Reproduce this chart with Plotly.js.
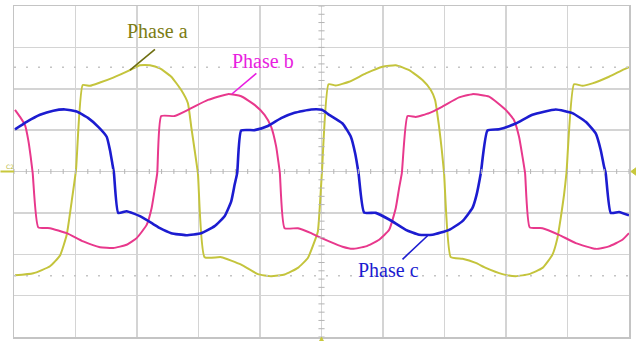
<!DOCTYPE html>
<html>
<head>
<meta charset="utf-8">
<script src="https://cdn.plot.ly/plotly-3.0.1.min.js"></script>
<style>
  html, body { margin: 0; padding: 0; background: #ffffff; }
  #scope { width: 636px; height: 341px; }
</style>
</head>
<body>
<div id="scope"></div>
<script>
// Three-phase waveforms on a 10 x 8 division oscilloscope screen.
// Time and amplitude are given in screen divisions.

const phaseATime = [0.016, 0.314, 0.585, 0.748, 0.857, 0.938, 1.008, 1.117, 1.235, 1.398, 1.614, 1.885, 2.048, 2.210, 2.373, 2.557, 2.719, 2.828, 2.882, 2.937, 2.990, 3.099, 3.369, 3.694, 3.966, 4.182, 4.400, 4.616, 4.778, 4.887, 4.941, 5.006, 5.115, 5.233, 5.449, 5.721, 5.992, 6.208, 6.425, 6.642, 6.777, 6.847, 6.912, 6.956, 6.993, 7.102, 7.292, 7.508, 7.671, 7.942, 8.159, 8.375, 8.593, 8.755, 8.836, 8.890, 8.944, 8.983, 9.106, 9.243, 9.405, 9.675, 9.893, 10.0];
const phaseAVolt = [-2.51, -2.46, -2.29, -2.03, -1.53, -0.72, 0.04, 2.09, 2.07, 2.15, 2.27, 2.45, 2.57, 2.57, 2.49, 2.29, 1.97, 1.65, 1.08, 0.52, -0.04, -2.07, -2.07, -2.25, -2.48, -2.53, -2.49, -2.33, -2.09, -1.69, -1.45, -0.04, 2.11, 2.08, 2.17, 2.37, 2.53, 2.57, 2.45, 2.21, 1.97, 1.73, 1.08, 0.52, -0.04, -2.07, -2.11, -2.21, -2.33, -2.48, -2.53, -2.48, -2.33, -2.01, -1.61, -1.12, -0.56, -0.04, 2.11, 2.07, 2.13, 2.29, 2.45, 2.52];

const phaseBTime = [0.016, 0.098, 0.179, 0.232, 0.271, 0.304, 0.395, 0.585, 0.857, 1.126, 1.398, 1.614, 1.832, 1.994, 2.157, 2.238, 2.292, 2.329, 2.394, 2.612, 2.882, 3.153, 3.478, 3.694, 3.912, 4.074, 4.182, 4.263, 4.302, 4.323, 4.400, 4.616, 4.832, 4.941, 5.124, 5.342, 5.505, 5.721, 5.937, 6.100, 6.208, 6.262, 6.306, 6.399, 6.533, 6.750, 6.967, 7.237, 7.455, 7.725, 7.996, 8.131, 8.212, 8.268, 8.310, 8.386, 8.593, 8.862, 9.134, 9.459, 9.675, 9.893, 10.0];
const phaseBVolt = [1.49, 1.32, 1.12, 0.76, 0.36, -0.04, -1.35, -1.37, -1.49, -1.69, -1.83, -1.85, -1.77, -1.61, -1.29, -0.88, -0.40, -0.04, 1.34, 1.34, 1.53, 1.73, 1.87, 1.82, 1.61, 1.37, 1.08, 0.60, 0.20, -0.04, -1.37, -1.37, -1.49, -1.57, -1.69, -1.82, -1.87, -1.81, -1.65, -1.41, -0.88, -0.40, -0.04, 1.34, 1.32, 1.41, 1.57, 1.79, 1.87, 1.81, 1.49, 1.24, 0.84, 0.36, -0.04, -1.35, -1.37, -1.53, -1.73, -1.87, -1.81, -1.65, -1.49];

const phaseCTime = [0.016, 0.206, 0.423, 0.639, 0.829, 1.019, 1.208, 1.370, 1.507, 1.560, 1.598, 1.625, 1.695, 1.832, 2.048, 2.264, 2.373, 2.557, 2.800, 3.044, 3.262, 3.424, 3.532, 3.587, 3.629, 3.694, 3.912, 4.128, 4.344, 4.562, 4.832, 5.006, 5.124, 5.342, 5.477, 5.547, 5.602, 5.693, 5.883, 6.100, 6.371, 6.587, 6.805, 7.075, 7.292, 7.455, 7.517, 7.590, 7.699, 7.887, 8.159, 8.430, 8.809, 9.080, 9.296, 9.459, 9.540, 9.594, 9.621, 9.703, 9.838, 10.0];
const phaseCVolt = [1.02, 1.20, 1.37, 1.47, 1.50, 1.45, 1.29, 1.08, 0.84, 0.52, 0.20, -0.04, -1.00, -0.96, -1.08, -1.27, -1.37, -1.49, -1.54, -1.49, -1.32, -1.08, -0.72, -0.32, -0.04, 0.99, 1.00, 1.10, 1.29, 1.42, 1.50, 1.49, 1.37, 1.16, 0.84, 0.44, -0.04, -0.99, -1.00, -1.16, -1.41, -1.53, -1.53, -1.41, -1.20, -0.88, -0.59, -0.04, 0.99, 1.02, 1.16, 1.37, 1.50, 1.41, 1.20, 0.92, 0.52, 0.12, -0.04, -1.00, -0.98, -1.06];

const phaseNames = ['Phase a', 'Phase b', 'Phase c'];
const lineColors = ['#c4c43c', '#e8388c', '#1c1cd0'];
const labelColors = ['#7c7c14', '#e81ee0', '#1c1cd0'];

const traces = [
  { x: phaseATime, y: phaseAVolt, name: phaseNames[0], mode: 'lines',
    line: { color: lineColors[0], width: 2, shape: 'spline', smoothing: 0.45 } },
  { x: phaseBTime, y: phaseBVolt, name: phaseNames[1], mode: 'lines',
    line: { color: lineColors[1], width: 2, shape: 'spline', smoothing: 0.45 } },
  { x: phaseCTime, y: phaseCVolt, name: phaseNames[2], mode: 'lines',
    line: { color: lineColors[2], width: 2.6, shape: 'spline', smoothing: 0.45 } }
];

// Graticule decorations: centre-line ticks and the two dotted level lines.
const shapes = [];
const tickGrey = '#b4b4b4';
for (let i = 0; i <= 50; i++) {
  const t = i * 0.2;
  shapes.push({ type: 'line', xref: 'x', yref: 'y', x0: t, x1: t, y0: -0.06, y1: 0.06,
    line: { color: tickGrey, width: 1 } });
}
for (let i = 0; i <= 40; i++) {
  const v = -4 + i * 0.2;
  shapes.push({ type: 'line', xref: 'x', yref: 'y', x0: 4.95, x1: 5.05, y0: v, y1: v,
    line: { color: tickGrey, width: 1 } });
}
[2.52, -2.52].forEach(function (lvl) {
  shapes.push({ type: 'line', xref: 'paper', yref: 'y', x0: 0, x1: 1, y0: lvl, y1: lvl,
    line: { color: '#c4c4c4', width: 1.5, dash: '2px,10px' } });
});

// Leader lines from each label to its trace.
const leaders = [
  [2.292, 2.953, 1.885, 2.453, '#6e6e10'],
  [3.941, 2.373, 3.543, 1.873, '#e81ee0'],
  [6.317, -2.122, 6.724, -1.552, '#1c1cd0']
];
leaders.forEach(function (l) {
  shapes.push({ type: 'line', xref: 'x', yref: 'y', x0: l[0], y0: l[1], x1: l[2], y1: l[3],
    line: { color: l[4], width: 1.6 } });
});

// Channel and trigger markers around the screen edge.
shapes.push({ type: 'line', xref: 'paper', yref: 'y', x0: -0.022, x1: 0, y0: 0.0, y1: 0.0,
  line: { color: '#c8c83c', width: 2 } });
shapes.push({ type: 'path', xref: 'paper', yref: 'paper',
  path: 'M 1.003 0.5 L 1.012 0.512 L 1.012 0.488 Z',
  fillcolor: '#c8c83c', line: { color: '#c8c83c', width: 1 } });
shapes.push({ type: 'path', xref: 'paper', yref: 'paper',
  path: 'M 0.497 -0.012 L 0.503 -0.012 L 0.5 0.0 Z',
  fillcolor: '#c8c83c', line: { color: '#c8c83c', width: 1 } });

const labelFont = { family: '"Liberation Serif", "Times New Roman", serif', size: 20 };
const annotations = [
  { x: 2.332, y: 3.396, text: phaseNames[0], color: labelColors[0] },
  { x: 4.047, y: 2.671, text: phaseNames[1], color: labelColors[1] },
  { x: 6.086, y: -2.381, text: phaseNames[2], color: labelColors[2] }
].map(function (a) {
  return { x: a.x, y: a.y, xref: 'x', yref: 'y', text: a.text, showarrow: false,
    font: Object.assign({}, labelFont, { color: a.color }) };
});
annotations.push({ xref: 'paper', yref: 'y', x: -0.016, y: 0.12, text: 'C2',
  showarrow: false, font: { family: 'DejaVu Sans', size: 6, color: '#b8b83a' } });

const layout = {
  width: 636, height: 341,
  margin: { l: 14, r: 7, t: 6, b: 4, pad: 0 },
  paper_bgcolor: '#ffffff', plot_bgcolor: '#ffffff',
  showlegend: false,
  xaxis: { range: [0, 10], dtick: 1, tick0: 0, showgrid: true, gridcolor: '#d4d4d4', gridwidth: 1.5,
    zeroline: false, showticklabels: false, ticks: '', showline: true, mirror: true,
    linecolor: '#c4c4c4', linewidth: 1.5, fixedrange: true },
  yaxis: { range: [-4, 4], dtick: 1, tick0: 0, showgrid: true, gridcolor: '#d4d4d4', gridwidth: 1.5,
    zeroline: true, zerolinecolor: '#cccccc', zerolinewidth: 1.5,
    showticklabels: false, ticks: '', showline: true, mirror: true,
    linecolor: '#c4c4c4', linewidth: 1.5, fixedrange: true },
  shapes: shapes,
  annotations: annotations
};

Plotly.newPlot('scope', traces, layout, { displayModeBar: false, staticPlot: true });
</script>
</body>
</html>
